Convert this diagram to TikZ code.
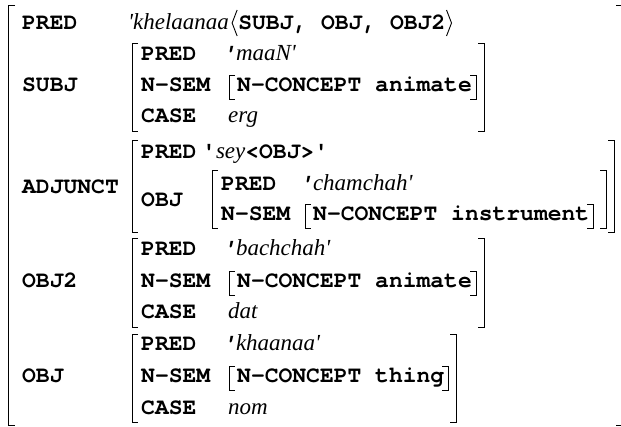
\documentclass[tikz,border=0pt]{standalone}
\usepackage{fontspec}
\usetikzlibrary{calc}
\newfontfamily\keyfam{TeX Gyre Cursor}[Ligatures=TeXOff]
\newfontfamily\valfam{Liberation Serif}[Ligatures=TeXOff]
\newcommand\kf{\fontsize{23}{27}\selectfont\keyfam\bfseries}
\newcommand\vf{\fontsize{23}{27}\selectfont\valfam\mdseries\itshape}
\newcommand\mq{{\kf'}}% typewriter quote opening a PRED value
% square brackets of an attribute-value matrix
\newcommand\lbr[3]{\draw[brk] (#1+6,#2) -- (#1,#2) -- (#1,#3) -- (#1+6,#3);}
\newcommand\rbr[3]{\draw[brk] (#1-6,#2) -- (#1,#2) -- (#1,#3) -- (#1-6,#3);}
% one-line bracket pair around a named node
\newcommand\boxbr[1]{%
  \draw[brk] ($(#1.base west)+(-2,-17)$) -- ++(-6,0) -- ++(0,24) -- ++(6,0);
  \draw[brk] ($(#1.base east)+(-2,-17)$) -- ++(6,0) -- ++(0,24) -- ++(-6,0);}
\tikzset{
  key/.style={anchor=base west,inner sep=0pt,font=\kf},
  val/.style={anchor=base west,inner sep=0pt,font=\vf},
  brk/.style={line width=0.9pt,line join=miter},
}
\begin{document}
\begin{tikzpicture}[x=1pt,y=-1pt]
\fill[white] (0,0) rectangle (621,427);
\useasboundingbox (0,0) rectangle (621,427);

% outer matrix
\draw[brk] (15,5) -- (8.5,5) -- (8.5,425) -- (15,425);
\draw[brk] (616,5) -- (623,5) -- (623,425) -- (616,425);

% PRED
\node[key] (pred0) at (22,30) {PRED};
\node[val] (kh) at (128,30) {'khelaanaa};
\draw[brk] ($(kh.base east)+(8,-20)$) -- ++(-5,13) -- ++(5,13);
\node[key] (args) at ($(kh.base east)+(9,0)$) {SUBJ, OBJ, OBJ2};
\draw[brk] ($(args.base east)+(1,-20)$) -- ++(5,13) -- ++(-5,13);

% SUBJ
\node[key] (lsubj) at (22,92) {SUBJ};
\lbr{132}{43}{131}\rbr{484}{43}{131}
\node[key] (s1k) at (141,61) {PRED};
\node[val] (s1v) at (222,61) {\mq maaN'};
\node[key] (s2k) at (141,92) {N-SEM};
\node[key] (s2v) at (237,92) {N-CONCEPT animate};
\boxbr{s2v}
\node[key] (s3k) at (141,123) {CASE};
\node[val] (s3v) at (228,123) {erg};

% ADJUNCT
\node[key] (ladj) at (22,194) {ADJUNCT};
\lbr{132}{140}{232}\rbr{614}{140}{232}
\node[key] (a1k) at (141,159) {PRED};
\node[key] (a1v) at (202,159) {'{\vf sey}<OBJ>'};
\node[key] (a2k) at (141,207) {OBJ};
\lbr{212}{170}{228}\rbr{606}{170}{228}
\node[key] (o1k) at (221,191) {PRED};
\node[val] (o1v) at (299,191) {\mq chamchah'};
\node[key] (o2k) at (221,221) {N-SEM};
\node[key] (o2v) at (313,221) {N-CONCEPT instrument};
\boxbr{o2v}

% OBJ2
\node[key] (lobj2) at (22,288) {OBJ2};
\lbr{132}{238}{327}\rbr{484}{238}{327}
\node[key] (b1k) at (141,256) {PRED};
\node[val] (b1v) at (222,256) {\mq bachchah'};
\node[key] (b2k) at (141,288) {N-SEM};
\node[key] (b2v) at (237,288) {N-CONCEPT animate};
\boxbr{b2v}
\node[key] (b3k) at (141,319) {CASE};
\node[val] (b3v) at (228,319) {dat};

% OBJ
\node[key] (lobj) at (22,383) {OBJ};
\lbr{132}{334}{422}\rbr{456}{334}{422}
\node[key] (c1k) at (141,351) {PRED};
\node[val] (c1v) at (222,351) {\mq khaanaa'};
\node[key] (c2k) at (141,383) {N-SEM};
\node[key] (c2v) at (237,383) {N-CONCEPT thing};
\boxbr{c2v}
\node[key] (c3k) at (141,414) {CASE};
\node[val] (c3v) at (228,414) {nom};
\end{tikzpicture}
\end{document}
